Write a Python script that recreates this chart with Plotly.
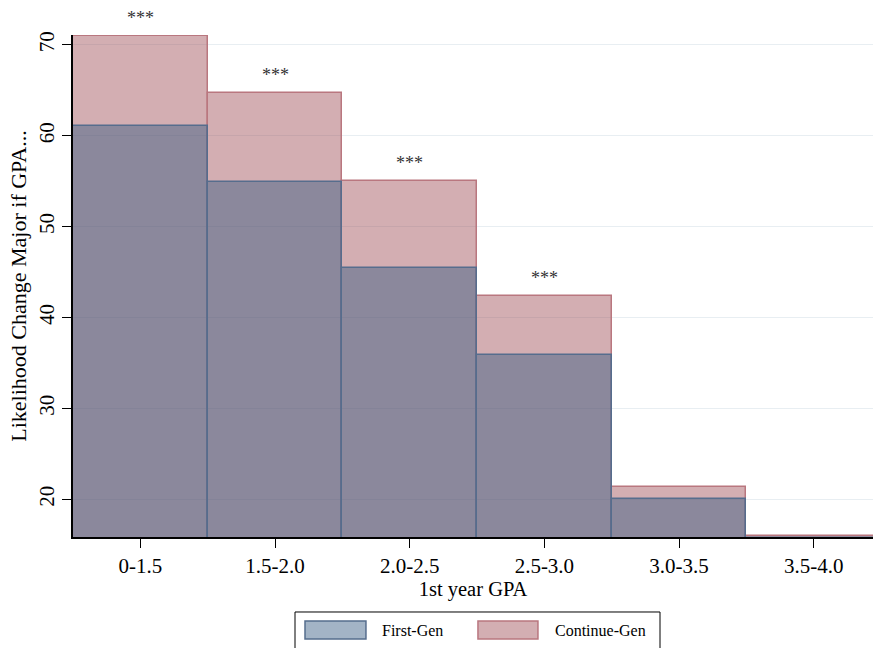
import plotly.graph_objects as go

categories = ["0-1.5", "1.5-2.0", "2.0-2.5", "2.5-3.0", "3.0-3.5", "3.5-4.0"]
first_gen = [61.1, 54.9, 45.5, 35.9, 20.0, 15.7]
continue_gen = [71.0, 64.7, 55.0, 42.4, 21.3, 15.95]
significance = ["***", "***", "***", "***", "", ""]
y_ticks = [20, 30, 40, 50, 60, 70]

FONT = "Liberation Serif"
PINK_FILL = "rgba(157,75,84,0.45)"
PINK_LINE = "#b9777f"
BLUE_FILL = "rgba(55,92,131,0.46)"
BLUE_LINE = "#566d8d"

fig = go.Figure()
fig.add_trace(go.Bar(
    x=categories, y=continue_gen, name="Continue-Gen",
    marker=dict(color=PINK_FILL, line=dict(color=PINK_LINE, width=1.5)),
    showlegend=False, cliponaxis=False,
))
fig.add_trace(go.Bar(
    x=categories, y=first_gen, name="First-Gen",
    marker=dict(color=BLUE_FILL, line=dict(color=BLUE_LINE, width=1.5)),
    showlegend=False,
))

for cat, val, s in zip(categories, continue_gen, significance):
    if s:
        fig.add_annotation(x=cat, y=val, text=s, showarrow=False,
                           yanchor="bottom", yshift=6,
                           font=dict(family=FONT, size=18, color="#333333"))

# custom legend (wide swatches like the original)
fig.add_shape(type="rect", xref="paper", yref="paper",
              x0=0.2775, x1=0.73375, y0=-0.228, y1=-0.1494,
              line=dict(color="black", width=1), fillcolor="white")
legend_items = [("First-Gen", BLUE_FILL, BLUE_LINE, 0.29, 0.3662, 0.3838),
                ("Continue-Gen", PINK_FILL, PINK_LINE, 0.5062, 0.5812, 0.6)]
for name, fill, line, sx0, sx1, tx in legend_items:
    fig.add_shape(type="rect", xref="paper", yref="paper",
                  x0=sx0, x1=sx1, y0=-0.2032, y1=-0.1673,
                  line=dict(color=line, width=1.5), fillcolor=fill)
    fig.add_annotation(xref="paper", yref="paper", x=tx, y=-0.1853,
                       text=name, showarrow=False, xanchor="left",
                       yanchor="middle",
                       font=dict(family=FONT, size=16, color="black"))

fig.update_layout(
    width=873, height=648,
    margin=dict(l=73, r=0, t=35, b=111),
    barmode="overlay", bargap=0,
    plot_bgcolor="white", paper_bgcolor="white",
    font=dict(family=FONT, size=21, color="black"),
)
fig.update_xaxes(
    type="category", range=[-0.5, 5.44],
    showline=True, linecolor="black", linewidth=1.5,
    ticks="outside", ticklen=9, tickcolor="black", tickwidth=1,
    showgrid=False, zeroline=False,
    tickfont=dict(family=FONT, size=21),
    title=dict(text="1st year GPA", font=dict(family=FONT, size=20.5), standoff=3),
)
fig.update_yaxes(
    range=[15.85, 71.1], tickvals=y_ticks, tickangle=-90,
    showline=True, linecolor="black", linewidth=1.5,
    ticks="outside", ticklen=9, tickcolor="black", tickwidth=1,
    showgrid=True, gridcolor="#e8eef2", gridwidth=1, zeroline=False,
    tickfont=dict(family=FONT, size=21),
    title=dict(text="Likelihood Change Major if GPA...", font=dict(family=FONT, size=22), standoff=2),
)

fig.write_html("out.html")
